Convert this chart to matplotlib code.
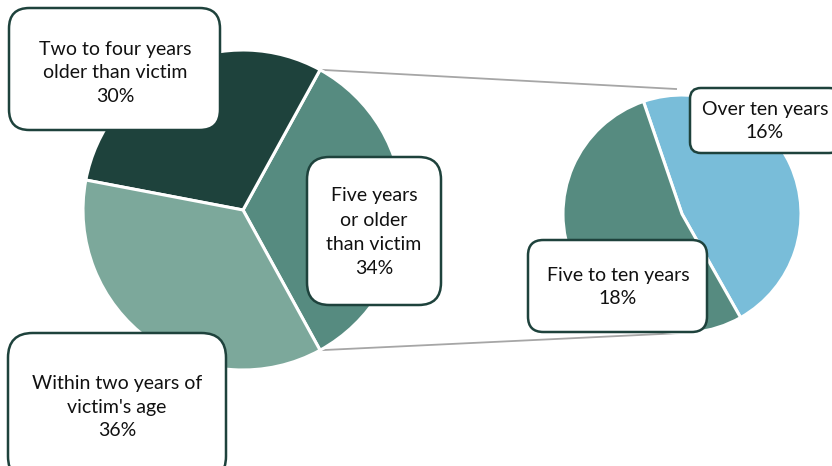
import numpy as np
import matplotlib.pyplot as plt
from matplotlib.patches import FancyBboxPatch

plt.rcParams['font.family'] = ['Lato', 'DejaVu Sans']

# age gap between offender and victim
main_labels = ["Five years\nor older\nthan victim",
               "Two to four years\nolder than victim",
               "Within two years of\nvictim's age"]
main_pct = [34, 30, 36]
main_colors = ['#568b80', '#1e423c', '#7ca89b']

# split of the "five years or older" group
sub_labels = ["Over ten years", "Five to ten years"]
sub_pct = [16, 18]
sub_colors = ['#79bdd9', '#568b80']

W, H = 832, 466
fig = plt.figure(figsize=(W / 100, H / 100), dpi=100)
ax = fig.add_axes([0, 0, 1, 1])

left_c, left_r = (243, H - 210), 160
right_c, right_r = (682, H - 214), 119

start = -main_pct[0] / 100 * 180
ax.pie(main_pct, colors=main_colors, startangle=start, center=left_c,
       radius=left_r, frame=True,
       wedgeprops=dict(edgecolor='white', linewidth=2.2))

sub_start = -60.5
ax.pie(sub_pct, colors=sub_colors, startangle=sub_start, center=right_c,
       radius=right_r, frame=True,
       wedgeprops=dict(edgecolor='white', linewidth=2.2))

# connector lines from the exploded wedge to the second pie
a0 = np.deg2rad(start)
a1 = np.deg2rad(start + main_pct[0] * 3.6)
p_top = (left_c[0] + left_r * np.cos(a1), left_c[1] + left_r * np.sin(a1))
p_bot = (left_c[0] + left_r * np.cos(a0), left_c[1] + left_r * np.sin(a0))
ax.plot([p_top[0], right_c[0] - 5], [p_top[1], right_c[1] + right_r * 1.05],
        color='#a6a6a6', lw=1.3, zorder=0.5, solid_capstyle='butt')
ax.plot([p_bot[0], right_c[0]], [p_bot[1], right_c[1] - right_r],
        color='#a6a6a6', lw=1.3, zorder=0.5, solid_capstyle='butt')


def label_box(x0, y0, x1, y1, text, tx, ty):
    w, h = x1 - x0, y1 - y0
    rad = 0.167 * min(w, h)
    box = FancyBboxPatch((x0, H - y1), w, h,
                         boxstyle=f"round,pad=0,rounding_size={rad}",
                         facecolor='white', edgecolor='#1e423c', lw=1.8,
                         zorder=5)
    ax.add_patch(box)
    ax.text(tx, H - ty, text, ha='center', va='center', fontsize=14,
            color='#111111', linespacing=1.5, zorder=6)


label_box(9, 8, 220, 130, f"{main_labels[1]}\n{main_pct[1]}%", 115, 73)
label_box(307, 157, 441, 305, f"{main_labels[0]}\n{main_pct[0]}%", 374, 232)
label_box(8, 333, 226, 481, f"{main_labels[2]}\n{main_pct[2]}%", 117, 407)
label_box(690, 88, 840, 153, f"{sub_labels[0]}\n{sub_pct[0]}%", 765, 121)
label_box(528, 240, 707, 332, f"{sub_labels[1]}\n{sub_pct[1]}%", 618, 287)

ax.set_xlim(0, W)
ax.set_ylim(0, H)
ax.set_aspect('equal')
ax.axis('off')

fig.savefig('out.png', dpi=100)
